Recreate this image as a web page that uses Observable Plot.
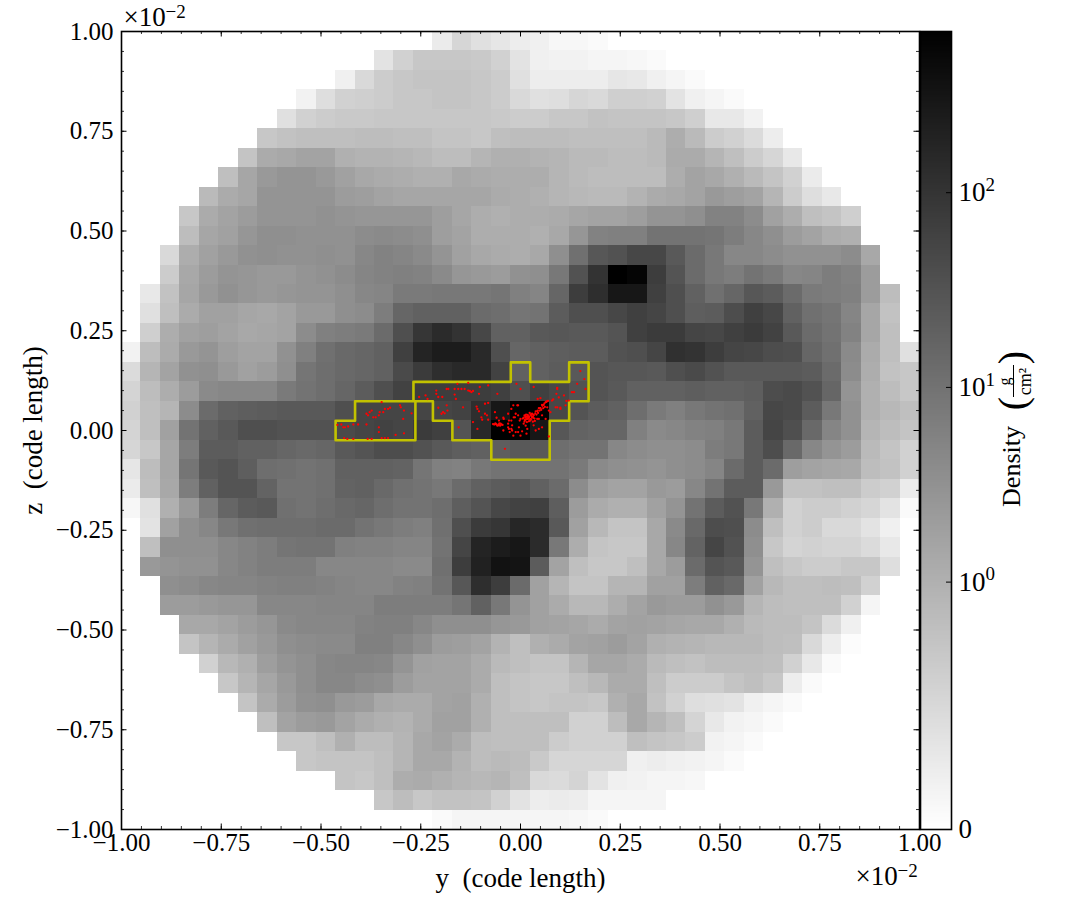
<!DOCTYPE html>
<html>
<head>
<meta charset="utf-8">
<script src="https://cdn.jsdelivr.net/npm/d3@7"></script>
<script src="https://cdn.jsdelivr.net/npm/@observablehq/plot@0.6"></script>
<style>
html,body{margin:0;padding:0;background:#fff}
#wrap{position:relative;width:1084px;height:920px;overflow:hidden}
#wrap svg{position:absolute;top:0;background:transparent}
</style>
</head>
<body>
<div id="wrap"></div>
<script>
// ---- density cells: position along the colour bar (percent), row by row from the top
const gridSize = 41;
const cellFirstColumn = [16,13,11,9,8,7,6,5,4,3,3,2,2,1,1,1,0,0,0,0,0,0,0,0,0,1,1,1,2,2,3,3,4,5,6,7,8,9,11,13,16];
const cellLevels = [
[8,16,12,10,7,6,3,3,2],
[11,18,22,22,22,21,18,11,6,5,5,4,4,3,2],
[6,15,20,22,23,23,23,22,20,12,7,7,7,7,10,9,6,4,2],
[5,13,18,19,20,22,22,23,23,22,20,15,12,13,16,15,19,19,18,11,6,4,2],
[12,18,20,21,21,22,22,22,22,22,22,21,20,20,22,22,24,23,23,23,22,19,9,9,5],
[22,24,25,25,25,26,26,25,25,23,23,22,25,26,26,26,25,25,25,25,27,32,27,20,18,14,7],
[23,33,34,36,36,31,30,30,29,28,26,26,29,31,31,30,29,27,27,26,26,27,33,33,29,25,20,16,9],
[25,35,40,42,42,40,37,34,33,32,31,31,34,33,32,32,32,29,27,26,26,26,26,32,36,34,31,27,23,18,8],
[27,33,35,42,42,42,42,39,38,36,35,35,35,35,35,33,32,31,29,28,27,27,30,33,34,36,40,38,36,29,20,13,9],
[22,33,36,39,42,42,42,43,42,41,41,41,41,38,35,32,31,32,32,33,35,36,36,38,42,42,44,49,49,45,37,32,25,23,19],
[26,35,37,41,44,44,43,43,43,45,46,45,44,38,36,32,32,32,31,34,41,49,50,50,55,55,55,54,51,47,44,39,36,32,31],
[15,32,37,40,43,44,43,43,44,43,47,49,48,46,42,37,34,33,32,34,44,56,66,68,72,72,65,58,53,47,47,45,43,43,43,45,34],
[20,34,39,42,41,40,40,42,43,45,48,49,50,49,46,41,40,39,43,44,53,68,80,100,98,76,67,58,53,51,55,52,47,48,51,49,39],
[9,24,35,40,43,41,40,41,42,42,44,47,48,52,52,53,53,53,54,50,48,60,76,82,91,91,75,69,62,56,60,66,64,58,52,51,50,39,26],
[12,25,33,37,37,35,34,36,40,40,44,45,51,60,62,62,62,58,57,54,55,64,69,69,72,75,73,69,63,64,70,75,72,62,56,54,48,35,24],
[19,32,37,38,36,34,35,36,45,50,51,52,58,69,79,83,80,72,62,62,65,66,65,65,67,75,77,77,73,72,75,77,74,65,58,55,49,35,25],
[5,26,33,40,42,38,36,36,43,50,56,59,60,62,75,86,89,89,84,69,60,62,63,64,64,68,69,73,81,80,76,73,72,70,69,60,56,46,33,25,12],
[14,29,36,43,44,40,37,39,44,54,57,59,60,62,71,77,82,84,84,74,62,62,64,65,67,66,66,65,69,71,68,65,65,65,65,64,58,45,32,24,22],
[17,26,32,39,46,47,47,47,52,55,57,60,64,69,74,76,76,76,76,75,69,75,72,68,67,65,62,62,62,63,62,62,63,70,71,68,60,42,31,26,22],
[18,25,29,45,58,62,63,64,65,65,65,69,73,73,73,73,73,74,82,91,100,100,72,67,64,62,57,52,50,53,55,56,62,72,71,64,53,43,31,28,25],
[17,25,37,55,62,65,69,69,68,68,68,71,73,74,73,77,75,67,84,100,100,91,66,61,60,60,50,46,47,49,50,53,64,73,69,59,48,43,29,26,23],
[16,22,35,51,64,64,62,62,60,59,60,65,67,70,70,68,65,63,62,63,65,65,57,55,55,47,45,44,44,45,51,53,64,70,59,47,42,39,27,23,18],
[10,26,35,54,65,67,63,57,56,55,56,62,62,62,61,54,50,49,53,55,55,55,55,52,46,44,43,42,44,45,48,58,64,58,38,36,35,34,26,24,18],
[8,25,34,51,62,67,67,61,55,55,56,61,62,59,56,55,53,58,62,64,66,62,58,45,38,36,36,40,39,47,55,64,64,40,24,24,25,25,20,18,8],
[3,12,31,40,51,60,64,65,56,55,57,59,60,57,55,55,57,63,67,72,74,75,63,39,33,31,31,37,42,55,64,68,53,31,18,20,20,18,16,11,2],
[11,37,44,47,53,56,57,57,57,58,58,55,53,51,50,56,69,77,79,85,83,65,37,28,23,23,34,46,59,70,69,45,25,18,20,15,15,11,6],
[25,44,44,44,47,49,51,54,55,55,50,49,49,48,48,55,73,86,89,91,83,53,32,23,22,22,34,47,61,73,68,44,22,17,18,17,17,14,9],
[40,42,43,43,47,49,51,51,51,47,47,47,47,46,46,56,76,87,93,92,64,36,25,22,22,25,34,39,58,67,65,42,25,22,20,20,22,22,13],
[44,45,47,48,48,49,50,50,49,48,47,47,49,50,55,66,82,76,58,37,29,23,23,29,29,37,37,51,62,59,37,28,25,25,26,25,18],
[39,39,40,41,41,47,47,47,48,48,48,51,51,51,51,54,62,53,42,37,33,28,28,32,36,40,39,39,43,40,29,26,25,25,25,18,4],
[34,34,36,39,41,46,47,47,47,49,50,50,47,44,44,44,41,40,37,36,35,33,36,37,36,35,34,34,31,27,26,26,23,14,6],
[23,29,33,37,40,44,45,46,46,50,50,47,44,39,38,36,30,25,31,33,36,37,39,36,31,30,29,28,28,28,26,25,15,7,1],
[18,28,31,38,42,44,47,48,48,47,42,37,36,36,33,27,25,23,23,29,35,35,33,27,25,24,26,26,26,25,18,9,2],
[22,29,35,40,44,47,47,45,44,39,36,36,36,33,25,23,22,22,25,28,33,33,25,20,20,20,23,25,22,7,2],
[23,33,39,43,44,40,39,34,33,33,36,37,31,25,23,22,23,23,22,31,34,24,18,13,12,11,6,4,2],
[25,36,39,40,36,33,31,30,33,37,37,31,25,25,25,25,18,18,26,34,29,25,17,9,5,4,2],
[22,22,25,31,26,26,29,34,36,33,26,25,25,25,20,18,18,18,25,23,22,20,5,4,2],
[22,23,23,23,25,29,34,34,30,26,27,26,21,16,16,16,16,6,7,6,5,4,2],
[23,22,25,32,33,31,29,28,29,25,15,14,17,11,6,5,4,4,3],
[22,26,22,24,24,23,18,11,7,8,7,4,4,4,4],
[2,4,4,4,4,4,4,3,2]
];

// ---- yellow contour, in grid lines (column, row)
const contourColumns = [11,12,12,15,15,20,20,21,21,23,23,24,24,23,23,22,22,19,19,17,17,16,16,15.1,15.1,11,11];
const contourRows    = [20,20,19,19,18,18,17,17,18,18,17,17,19,19,20,20,22,22,21,21,20,20,19,19,21,21,20];

// ---- red particles (y, z) in units of 10^-2 code length
const particleY = [-.459,-.449,-.444,-.440,-.432,-.419,-.407,-.442,-.434,-.419,-.383,-.373,-.348,-.340,-.332,-.355,-.355,-.386,-.313,-.292,-.294,-.273,-.292,-.302,-.300,-.348,-.340,-.327,-.332,-.344,-.355,-.369,-.382,-.386,-.378,-.373,-.363,-.353,
-.254,-.238,-.233,-.211,-.211,-.206,-.196,-.185,-.181,-.165,-.156,-.148,-.140,-.165,-.162,-.158,-.131,-.131,-.123,-.127,-.119,-.102,-.104,-.081,-.058,-.010,0,
-.206,-.185,-.183,-.194,-.198,-.190,-.144,-.155,-.110,-.108,-.104,-.089,-.081,-.089,-.098,-.096,-.119,-.108,-.084,-.081,-.064,-.060,-.043,-.031,-.018,-.006,
-.066,-.060,-.054,-.048,-.058,-.051,-.063,-.053,-.039,-.031,-.043,-.023,-.027,-.018,-.006,-.014,-.002,-.023,-.031,-.006,0,
.029,.038,.046,.054,.063,.069,.033,.042,.050,.058,.066,.013,.018,.025,.018,.025,.015,.029,.010,.023,.033,.021,.017,.027,.012,
-.008,0,-.012,-.023,-.017,-.029,-.021,-.004,.008,-.042,-.054,-.029,-.021,-.012,.017,.033,.042,.046,.054,.063,.075,.088,.100,.113,.121,.092,.079,.050,
.150,.142,.160,.163,.129,.134,.109,.096,.092,.090,.082,.115,.071,.092,.100,.067,.054,.043,.033,.046,.071,.038,.015,.004,.013,
.008,.012,.016,.020,.024,.028,.032,.014,.019,.023,.027,.031,.035,.040,.044,.048,.052,.057,.061,.036,.031,.025,.021,.016,.011,.006,.010,.022,.028,.037,.043,.049,.055,.060,.065,-.069,-.062,-.056,-.050,-.045];
const particleZ = [.014,.015,.008,.008,.010,.015,.015,-.019,-.021,-.021,-.021,-.021,-.019,-.019,-.019,-.004,.008,.015,-.011,-.007,.029,.043,.050,.063,.058,.071,.054,.057,.054,.046,.038,.033,.038,.042,.046,.050,.033,.046,
.084,.088,.079,.100,.092,.084,.084,.104,.104,.104,.104,.104,.104,.090,.079,.117,.119,.100,.096,.099,.099,.109,.092,.113,.092,.117,.104,
.057,.063,.050,.046,.042,.043,.058,.008,.060,.054,.048,.067,.069,.042,.033,.027,.021,.004,.038,.027,.046,.032,.032,.042,.063,.063,
.015,.015,.015,.015,.012,.012,.018,.018,-.046,.008,0,.004,-.004,-.013,.038,.033,.025,.025,.017,-.004,-.013,
.042,.048,.056,.064,.071,.074,.040,.048,.056,.064,.073,.033,.039,.039,.029,.029,.028,.033,.038,.024,.038,.033,.031,.028,.036,
.063,.029,.042,.054,.033,.025,.013,.008,.017,.029,.025,.004,0,-.004,.004,.013,.029,.004,.008,.029,.046,.058,.054,.063,.075,.104,.075,.081,
.149,.117,.129,.104,.096,.096,.088,.083,.107,.092,.078,.074,.050,.058,.057,.058,.038,.079,.109,.029,-.015,0,-.008,-.002,.012,
.032,.028,.035,.030,.026,.036,.032,.040,.036,.044,.041,.034,.030,.040,.044,.050,.052,.056,.059,.024,.022,.027,.023,.021,.026,.030,.022,.035,.041,.043,.050,.056,.062,.068,.072,.016,.016,.013,.017,.014];

// ---- axis ticks and labels
const majorTicks = [-1,-.75,-.5,-.25,0,.25,.5,.75,1];
const minorTicks = d3.range(-19,20).map(i => i*.05);
const xLabel = "y\u00a0\u00a0(code length)";
const yLabel = "z\u00a0\u00a0(code length)";
const offsetBase = "×10";
const offsetExponent = "−2";

// ---- colour bar
const barValues = [0,1,10,100];
const barBaseLabels = ["0","10","10","10"];
const barExponents = ["", "0","1","2"];
const barLevels = [0,31,55.4,79.8];
const barSteps = d3.range(0,100,.25);

const serif = "'Liberation Serif', serif";
const cells = cellLevels.flatMap((row,r) => row.map((level,i) => ({col: cellFirstColumn[r]+i, row: r, level})));
const toY = c => -1 + c*2/gridSize;
const toZ = r => 1 - r*2/gridSize;
const contour = contourColumns.map((c,i) => ({y: toY(c), z: toZ(contourRows[i])}));
const particles = particleY.map((y,i) => ({y, z: particleZ[i]}));
const grayScale = {type:"linear", domain:[0,100], range:["#ffffff","#000000"], interpolate:"rgb"};
const labelSize = 27, tickSize = 25, expSize = 19;

const main = Plot.plot({
  width: 1084, height: 920,
  marginLeft: 121, marginRight: 165, marginTop: 31, marginBottom: 91,
  style: {fontFamily: serif, background: "transparent", overflow: "visible"},
  x: {domain:[-1,1]}, y: {domain:[-1,1]},
  color: grayScale,
  marks: [
    Plot.rect(cells, {x1: d=>toY(d.col), x2: d=>toY(d.col+1), y1: d=>toZ(d.row+1), y2: d=>toZ(d.row), fill: "level", shapeRendering: "crispEdges"}),
    Plot.line(contour, {x:"y", y:"z", stroke:"#c2c200", strokeWidth:2.6, strokeLinejoin:"round"}),
    Plot.dot(particles, {x:"y", y:"z", r:1.15, fill:"#ff0000", stroke:"none"}),
    Plot.ruleX(majorTicks, {insetTop:792.5, stroke:"black", strokeWidth:1}),
    Plot.ruleX(majorTicks, {insetBottom:792.5, stroke:"black", strokeWidth:1}),
    Plot.ruleX(minorTicks, {insetTop:795, stroke:"black", strokeWidth:.8}),
    Plot.ruleX(minorTicks, {insetBottom:795, stroke:"black", strokeWidth:.8}),
    Plot.ruleY(majorTicks, {insetRight:792.5, stroke:"black", strokeWidth:1}),
    Plot.ruleY(majorTicks, {insetLeft:792.5, stroke:"black", strokeWidth:1}),
    Plot.ruleY(minorTicks, {insetRight:795, stroke:"black", strokeWidth:.8}),
    Plot.ruleY(minorTicks, {insetLeft:795, stroke:"black", strokeWidth:.8}),
    Plot.frame({stroke:"black", strokeWidth:1.6}),
    Plot.axisX({anchor:"bottom", ticks:majorTicks, tickSize:0, tickPadding:4, tickFormat:d3.format(".2f"), fontSize:tickSize, fontFamily:serif, fill:"black", label:null}),
    Plot.axisY({anchor:"left", ticks:majorTicks, tickSize:0, tickPadding:8, tickFormat:d3.format(".2f"), fontSize:tickSize, fontFamily:serif, fill:"black", label:null}),
    Plot.text([xLabel], {frameAnchor:"bottom", lineAnchor:"middle", text:d=>d, dy:49, fontSize:labelSize, fontFamily:serif, fill:"black"}),
    Plot.text([yLabel], {frameAnchor:"left", lineAnchor:"middle", textAnchor:"middle", text:d=>d, rotate:-90, dx:-88, fontSize:labelSize, fontFamily:serif, fill:"black"}),
    Plot.text([offsetBase], {frameAnchor:"top-left", lineAnchor:"middle", textAnchor:"start", text:d=>d, dx:2, dy:-14, fontSize:labelSize, fontFamily:serif, fill:"black"}),
    Plot.text([offsetExponent], {frameAnchor:"top-left", lineAnchor:"middle", textAnchor:"start", text:d=>d, dx:44, dy:-20, fontSize:expSize, fontFamily:serif, fill:"black"}),
    Plot.text([offsetBase], {frameAnchor:"bottom-right", lineAnchor:"middle", textAnchor:"start", text:d=>d, dx:-64, dy:47, fontSize:labelSize, fontFamily:serif, fill:"black"}),
    Plot.text([offsetExponent], {frameAnchor:"bottom-right", lineAnchor:"middle", textAnchor:"start", text:d=>d, dx:-22, dy:41, fontSize:expSize, fontFamily:serif, fill:"black"})
  ]
});
main.style.left = "0px";

const barTicks = barValues.map((v,i) => ({value:v, level:barLevels[i], base:barBaseLabels[i], exp:barExponents[i]}));
const levelAt = py => (829-py)/7.98;
const bar = Plot.plot({
  width: 165, height: 920,
  marginLeft: 1, marginRight: 133, marginTop: 31, marginBottom: 91,
  style: {fontFamily: serif, background: "transparent", overflow: "visible"},
  x: {domain:[0,1], axis:null}, y: {domain:[0,100], axis:null},
  color: grayScale,
  marks: [
    Plot.rect(barSteps, {x1:0, x2:1, y1:d=>d, y2:d=>d+.25, fill:d=>d, shapeRendering:"crispEdges"}),
    Plot.ruleY(barTicks.slice(1), {y:"level", insetLeft:26, stroke:"black", strokeWidth:1}),
    Plot.frame({stroke:"black", strokeWidth:1.6}),
    Plot.text(barTicks, {x:1, y:"level", text:"base", textAnchor:"start", dx:7, fontSize:labelSize, fontFamily:serif, fill:"black"}),
    Plot.text(barTicks, {x:1, y:"level", text:"exp", textAnchor:"start", dx:34, dy:-8, fontSize:expSize, fontFamily:serif, fill:"black"}),
    Plot.text(["Density"], {x:1, y:levelAt(466), text:d=>d, rotate:-90, dx:60, fontSize:26, fontFamily:serif, fill:"black"}),
    Plot.text(["("], {x:1, y:levelAt(403), text:d=>d, rotate:-90, dx:62, fontSize:40, fontWeight:300, fontFamily:serif, fill:"black"}),
    Plot.text([")"], {x:1, y:levelAt(357), text:d=>d, rotate:-90, dx:62, fontSize:40, fontWeight:300, fontFamily:serif, fill:"black"}),
    Plot.text(["g"], {x:1, y:levelAt(381), text:d=>d, rotate:-90, dx:53, fontSize:16, fontFamily:serif, fill:"black"}),
    Plot.text(["cm²"], {x:1, y:levelAt(381), text:d=>d, rotate:-90, dx:74, fontSize:18, fontFamily:serif, fill:"black"}),
    Plot.ruleX([1], {dx:62, y1:levelAt(397), y2:levelAt(365), stroke:"black", strokeWidth:1})
  ]
});
bar.style.left = "919px";

const wrap = document.getElementById("wrap");
wrap.append(main, bar);
</script>
</body>
</html>
